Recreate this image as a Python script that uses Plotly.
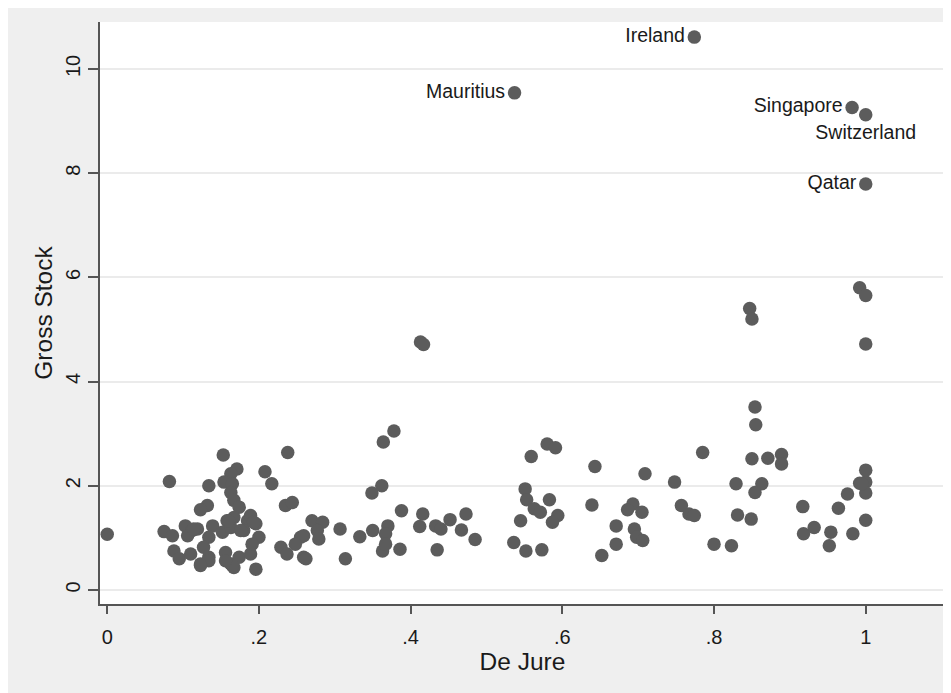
import plotly.graph_objects as go

# Unlabelled countries: De Jure (x) and Gross Stock (y)
de_jure = [
    0.000, 0.082, 0.153, 0.238, 0.171, 0.163, 0.208, 0.217, 0.134, 0.154,
    0.165, 0.163, 0.167, 0.174, 0.132, 0.123, 0.235, 0.244, 0.075, 0.086,
    0.103, 0.112, 0.119, 0.106, 0.139, 0.158, 0.152, 0.167, 0.185, 0.189,
    0.196, 0.200, 0.180, 0.163, 0.134, 0.127, 0.134, 0.123, 0.088, 0.095,
    0.110, 0.156, 0.163, 0.167, 0.174, 0.189, 0.191, 0.196, 0.229, 0.237,
    0.255, 0.259, 0.134, 0.123, 0.165, 0.156, 0.176, 0.160, 0.193, 0.114,
    0.413, 0.417, 0.378, 0.364, 0.362, 0.349, 0.270, 0.284, 0.277, 0.279,
    0.259, 0.262, 0.248, 0.307, 0.314, 0.333, 0.350, 0.370, 0.367, 0.363,
    0.367, 0.386, 0.388, 0.416, 0.412, 0.433, 0.440, 0.435, 0.452, 0.473,
    0.467, 0.485, 0.536, 0.552, 0.573, 0.545, 0.551, 0.553, 0.563, 0.571,
    0.583, 0.594, 0.587, 0.559, 0.580, 0.591, 0.643, 0.639, 0.671, 0.671,
    0.652, 0.992, 1.000, 1.000, 0.847, 0.850, 0.854, 0.855, 0.850, 0.871,
    0.889, 0.889, 0.785, 0.709, 0.748, 0.757, 0.767, 0.774, 0.829, 0.831,
    0.849, 0.863, 0.854, 0.800, 0.823, 0.693, 0.686, 0.705, 0.695, 0.698,
    0.706, 0.917, 0.918, 0.932, 0.954, 0.952, 0.964, 0.976, 0.983, 0.992,
    1.000, 1.000, 1.000, 1.000, 0.995,
]
gross_stock = [
    1.07, 2.08, 2.59, 2.64, 2.32, 2.23, 2.27, 2.04, 2.00, 2.07,
    2.04, 1.87, 1.72, 1.59, 1.62, 1.54, 1.62, 1.68, 1.12, 1.04,
    1.23, 1.14, 1.17, 1.04, 1.23, 1.33, 1.11, 1.39, 1.33, 1.43,
    1.27, 1.01, 1.14, 1.20, 1.01, 0.82, 0.63, 0.50, 0.75, 0.60,
    0.69, 0.72, 0.50, 0.43, 0.63, 0.69, 0.88, 0.40, 0.82, 0.69,
    1.01, 0.63, 0.56, 0.47, 0.47, 0.56, 1.14, 1.33, 1.30, 1.17,
    4.76, 4.71, 3.05, 2.84, 2.00, 1.86, 1.33, 1.30, 1.14, 0.98,
    1.04, 0.60, 0.88, 1.17, 0.60, 1.02, 1.14, 1.23, 1.08, 0.75,
    0.88, 0.78, 1.52, 1.46, 1.22, 1.23, 1.17, 0.77, 1.35, 1.46,
    1.15, 0.97, 0.91, 0.75, 0.77, 1.33, 1.94, 1.73, 1.56, 1.49,
    1.73, 1.43, 1.30, 2.56, 2.80, 2.73, 2.37, 1.63, 1.23, 0.88,
    0.66, 5.80, 5.65, 4.72, 5.40, 5.20, 3.51, 3.17, 2.52, 2.53,
    2.60, 2.42, 2.64, 2.23, 2.07, 1.62, 1.46, 1.43, 2.04, 1.44,
    1.36, 2.04, 1.87, 0.88, 0.85, 1.65, 1.54, 1.49, 1.17, 1.01,
    0.95, 1.60, 1.08, 1.20, 1.11, 0.85, 1.57, 1.84, 1.08, 2.05,
    2.07, 2.30, 1.86, 1.34, 2.04,
]

# Labelled outliers
label_names = ["Ireland", "Mauritius", "Singapore", "Switzerland", "Qatar"]
label_x = [0.774, 0.537, 0.982, 1.000, 1.000]
label_y = [10.61, 9.54, 9.26, 9.12, 7.79]
label_pos = ["middle left", "middle left", "middle left", "bottom center", "middle left"]

x_ticks = [0, 0.2, 0.4, 0.6, 0.8, 1]
x_tick_text = ["0", ".2", ".4", ".6", ".8", "1"]
y_ticks = [0, 2, 4, 6, 8, 10]

dot = "#5c5c5c"
font = "Liberation Sans, Arial, sans-serif"

fig = go.Figure()
fig.add_trace(go.Scatter(
    x=de_jure, y=gross_stock, mode="markers",
    marker=dict(size=13.5, color=dot, line=dict(width=0)),
    hoverinfo="x+y", showlegend=False,
))
fig.add_trace(go.Scatter(
    x=label_x, y=label_y, mode="markers+text",
    text=label_names, textposition=label_pos,
    textfont=dict(family=font, size=19.5, color="#1a1a1a"),
    marker=dict(size=13.5, color=dot, line=dict(width=0)),
    showlegend=False,
))

fig.update_layout(
    width=943, height=685,
    margin=dict(l=92, r=6, t=14, b=89),
    paper_bgcolor="#efefef",
    plot_bgcolor="white",
    font=dict(family=font, color="#1a1a1a"),
)
fig.update_xaxes(
    range=[-0.0095, 1.1045],
    tickvals=x_ticks, ticktext=x_tick_text,
    ticks="outside", ticklen=8, tickwidth=2, tickcolor="#555555",
    ticklabelstandoff=6,
    tickfont=dict(size=20, family=font),
    showgrid=False, zeroline=False,
    showline=True, linecolor="#555555", linewidth=2,
    title=dict(text="De Jure", font=dict(size=24.5, family=font), standoff=0),
)
fig.update_yaxes(
    range=[-0.269, 10.90],
    tickvals=y_ticks,
    tickangle=-90,
    ticks="outside", ticklen=10, tickwidth=2, tickcolor="#555555",
    tickfont=dict(size=20, family=font),
    showgrid=True, gridcolor="#ebebeb", gridwidth=2,
    zeroline=False,
    showline=True, linecolor="#555555", linewidth=2,
    title=dict(text="Gross Stock", font=dict(size=24.5, family=font), standoff=2),
)

fig.write_html("out.html")
